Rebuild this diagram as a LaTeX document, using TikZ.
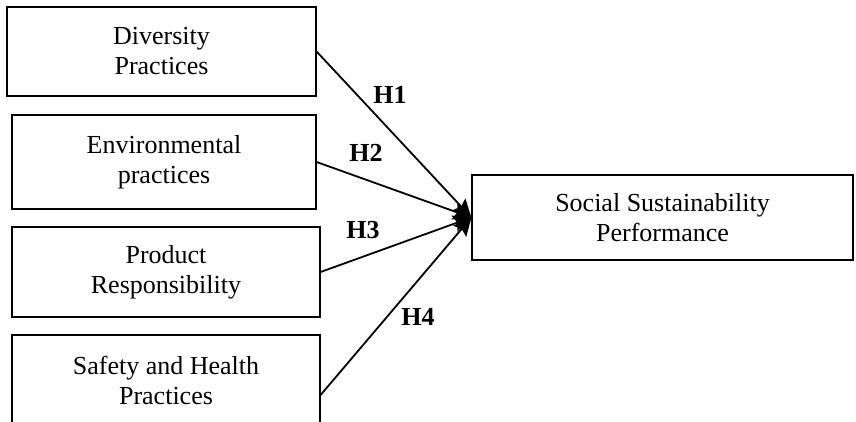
\documentclass[tikz,border=0pt]{standalone}
\usepackage{fontspec}
\setmainfont{Liberation Serif}
\usetikzlibrary{arrows.meta}

\begin{document}
\begin{tikzpicture}[x=0.5pt,y=-0.5pt,
  box/.style={draw,line width=0.6pt,align=center,inner sep=0pt,font=\fontsize{13}{15}\selectfont},
  hyp/.style={font=\fontsize{13}{15}\selectfont\bfseries},
  link/.style={-{Stealth[length=9pt,width=8.5pt,inset=1.5pt]},line width=0.9pt}]
\useasboundingbox (0,0) rectangle (856,422);
\clip (0,0) rectangle (856,422);
% constructs
\node[box,minimum width=154.5pt,minimum height=44.5pt] (div) at (161.5,51.5) {Diversity\\Practices};
\node[box,minimum width=152pt,minimum height=47pt] (env) at (164,162) {Environmental\\practices};
\node[box,minimum width=154pt,minimum height=45pt] (prod) at (166,272) {Product\\Responsibility};
\node[box,minimum width=154pt,minimum height=45pt] (safe) at (166,380) {Safety and Health\\Practices};
\node[box,minimum width=190.5pt,minimum height=42.5pt] (ssp) at (662.5,217.5) {Social Sustainability\\Performance};
% hypotheses
\draw[link] (div.east) -- (ssp.west);
\draw[link] (env.east) -- (ssp.west);
\draw[link] (prod.east) -- (ssp.west);
\draw[link] ([yshift=-7.5pt]safe.east) -- (ssp.west);
\node[hyp] (h1) at (390,95) {H1};
\node[hyp] (h2) at (366,153) {H2};
\node[hyp] (h3) at (363,230) {H3};
\node[hyp] (h4) at (418,317) {H4};
\end{tikzpicture}
\end{document}
